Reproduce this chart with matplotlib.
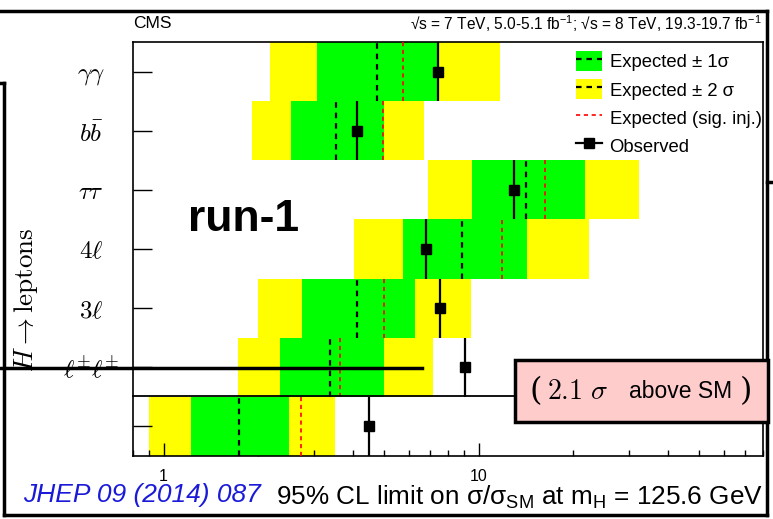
import matplotlib
matplotlib.use("Agg")
import matplotlib.pyplot as plt
import matplotlib.ticker as mticker
from matplotlib.lines import Line2D
from matplotlib.patches import Patch, Rectangle

plt.rcParams['font.family'] = ['Liberation Sans', 'DejaVu Sans']
plt.rcParams['mathtext.fontset'] = 'custom'
plt.rcParams['mathtext.rm'] = 'Liberation Sans'
plt.rcParams['mathtext.it'] = 'Liberation Sans:italic'
plt.rcParams['mathtext.bf'] = 'Liberation Sans:bold'

# channels, top to bottom (last row = combined, no label in the picture)
channels = [r'$\gamma\gamma$', r'$b\bar{b}$', r'$\tau\tau$', r'$4\ell$',
            r'$3\ell$', r'$\ell^{\pm}\ell^{\pm}$', '']
exp_m2 = [2.17, 1.91, 6.91, 4.03, 1.99, 1.72, 0.90]
exp_m1 = [3.08, 2.53, 9.55, 5.74, 2.76, 2.35, 1.22]
exp_med = [4.75, 3.52, 14.2, 8.86, 4.11, 3.38, 1.73]
exp_p1 = [7.48, 5.02, 21.7, 14.3, 6.30, 5.01, 2.51]
exp_p2 = [11.7, 6.72, 32.4, 22.4, 9.46, 7.19, 3.51]
exp_inj = [5.74, 4.98, 16.2, 11.9, 5.02, 3.63, 2.74]
observed = [7.41, 4.12, 12.98, 6.82, 7.56, 9.03, 4.50]

W, H = 773, 519
fig = plt.figure(figsize=(W / 100, H / 100), dpi=100)
ax = fig.add_axes([133 / W, 1 - 456 / H, 630 / W, 414 / H])

n = len(channels)
ys = [n - 1 - i + 0.5 for i in range(n)]
dash = (0, (2.5, 2.2))

for i in range(n):
    y = ys[i]
    ax.barh(y, exp_p2[i] - exp_m2[i], left=exp_m2[i], height=1.0,
            color='#ffff00', lw=0, zorder=1)
    ax.barh(y, exp_p1[i] - exp_m1[i], left=exp_m1[i], height=1.0,
            color='#00ff00', lw=0, zorder=2)
    ax.vlines(exp_med[i], y - 0.5, y + 0.5, colors='k', linestyles=dash, lw=1.6, zorder=3)
    ax.vlines(exp_inj[i], y - 0.5, y + 0.5, colors='#ff0000', linestyles=dash, lw=1.2, zorder=3)
    ax.vlines(observed[i], y - 0.5, y + 0.5, colors='k', lw=1.6, zorder=4)
    ax.plot(observed[i], y, 's', color='k', ms=6.5, zorder=5)

ax.set_xscale('log')
ax.set_xlim(0.8, 80)
ax.set_ylim(0, n)
ax.xaxis.set_major_locator(mticker.FixedLocator([1, 10]))
ax.xaxis.set_major_formatter(mticker.FuncFormatter(lambda v, p: f'{v:g}'))
ax.xaxis.set_minor_locator(mticker.LogLocator(base=10, subs=range(2, 10)))
ax.xaxis.set_minor_formatter(mticker.NullFormatter())
ax.tick_params(axis='x', which='major', direction='in', length=9.5, width=1, labelsize=11.5, pad=9.5)
ax.tick_params(axis='x', which='minor', direction='in', length=4.5, width=1)
ax.set_yticks(ys)
ax.set_yticklabels(channels, math_fontfamily='cm', fontsize=18)
ax.tick_params(axis='y', direction='in', length=13.5, width=1, pad=30)
for lab in ax.get_yticklabels():
    lab.set_horizontalalignment('center')
for s in ax.spines.values():
    s.set_linewidth(1.2)

ax.set_xlabel('95% CL limit on σ/σ$_{\\mathrm{SM}}$ at m$_{\\mathrm{H}}$ = 125.6 GeV',
              fontsize=18.8, loc='right', labelpad=0)

handles = [(Patch(facecolor='#00ff00', lw=0), Line2D([], [], color='k', ls=dash, lw=1.6)),
           (Patch(facecolor='#ffff00', lw=0), Line2D([], [], color='k', ls=dash, lw=1.6)),
           Line2D([], [], color='#ff0000', ls=dash, lw=1.2),
           Line2D([], [], color='k', lw=1.6, marker='s', ms=6.5)]
labels = ['Expected ± 1σ', 'Expected ± 2 σ', 'Expected (sig. inj.)', 'Observed']
ax.legend(handles, labels, loc='upper left', bbox_to_anchor=(0.689, 1.0), frameon=False,
          fontsize=13.3, borderpad=0, handlelength=1.4, handleheight=1.3,
          handletextpad=0.4, labelspacing=0.42)

# header texts
fig.text(133 / W, 1 - 24 / H, 'CMS', fontsize=12.5, ha='left', va='center')
fig.text(762 / W, 1 - 24 / H,
         '√s = 7 TeV, 5.0-5.1 fb$^{-1}$; √s = 8 TeV, 19.3-19.7 fb$^{-1}$',
         fontsize=11.2, ha='right', va='center')
fig.text(188 / W, 1 - 219 / H, 'run-1', fontsize=32, fontweight='bold', ha='left', va='center')
fig.text(26 / W, 1 - 300 / H, r'$H\rightarrow\mathrm{leptons}$', math_fontfamily='cm',
         fontsize=19.5, rotation=90, ha='center', va='center')
fig.text(23 / W, 1 - 495 / H, 'JHEP 09 (2014) 087', fontsize=19, style='italic',
         color='#1a1ad8', ha='left', va='center')

# slide overlays
def fig_line(x0, y0, x1, y1, lw):
    fig.add_artist(Line2D([x0 / W, x1 / W], [1 - y0 / H, 1 - y1 / H], transform=fig.transFigure,
                          color='k', lw=lw, zorder=10, solid_capstyle='projecting'))

fig_line(0, 11, 767, 11, 2.5)
fig_line(767, 11, 767, 515, 2.5)
fig_line(767, 182, 773, 182, 2.5)
fig_line(4, 83, 4, 515, 2.5)
fig_line(0, 83, 4, 83, 2.5)
fig_line(4, 515, 767, 515, 2.5)
fig_line(0, 368, 422, 368, 2.5)
fig_line(133, 396, 515, 396, 1.3)

fig.add_artist(Rectangle((515 / W, 1 - 422 / H), 253 / W, 62 / H, transform=fig.transFigure,
                         facecolor='#ffcccc', edgecolor='k', lw=2.5, zorder=11))
fig.text(536 / W, 1 - 392 / H, '(', fontsize=23, ha='center', va='center',
         family='DejaVu Serif', zorder=12)
fig.text(547 / W, 1 - 392 / H, r'$2.1\ \sigma$', math_fontfamily='cm', fontsize=20,
         ha='left', va='center', zorder=12)
fig.text(629 / W, 1 - 392 / H, 'above SM', fontsize=16.5, ha='left', va='center', zorder=12)
fig.text(746 / W, 1 - 392 / H, ')', fontsize=23, ha='center', va='center',
         family='DejaVu Serif', zorder=12)

fig.savefig('out.png', dpi=100)
